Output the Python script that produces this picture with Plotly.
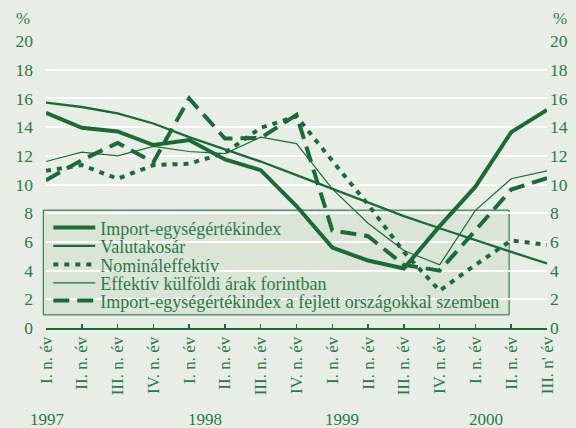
import plotly.graph_objects as go

# ---------------- data ----------------
quarter_labels = ["I. n. év", "II. n. év", "III. n. év", "IV. n. év",
                  "I. n. év", "II. n. év", "III. n. év", "IV. n. év",
                  "I. n. év", "II. n. év", "III. n. év", "IV. n. év",
                  "I. n. év", "II. n. év", "III. n' év"]
quarter_idx = list(range(len(quarter_labels)))

years = ["1997", "1998", "1999", "2000"]
year_pos = [0.0026, 0.318, 0.591, 0.8785]  # paper x of year labels

import_idx = [15.0, 13.95, 13.7, 12.75, 13.1, 11.75, 11.0, 8.5, 5.6, 4.7, 4.15, 7.1, 9.85, 13.65, 15.2]
valutakosar = [15.7, 15.4, 14.95, 14.25, 13.3, 12.45, 11.6, 10.65, 9.7, 8.8, 7.8, 6.95, 6.1, 5.3, 4.5]
nominal = [10.95, 11.35, 10.4, 11.35, 11.45, 12.2, 13.95, 14.75, 11.65, 8.6, 5.3, 2.6, 4.4, 6.1, 5.8]
effektiv = [11.6, 12.25, 12.0, 12.65, 12.3, 12.15, 13.3, 12.85, 9.7, 7.3, 5.4, 4.4, 8.2, 10.4, 10.95]
fejlett = [10.3, 11.7, 12.9, 11.55, 16.0, 13.2, 13.25, 14.85, 6.8, 6.4, 4.4, 4.0, 6.8, 9.65, 10.45]

names = ["Import-egységértékindex", "Valutakosár", "Nomináleffektív",
         "Effektív külföldi árak forintban",
         "Import-egységértékindex a fejlett országokkal szemben"]

# ---------------- style ----------------
GREEN = "#1b6b37"
TEXT = "#2a7a46"
BG = "#e8eee6"
BOX = "#dae5d7"
FONT = "Liberation Serif"

series = [import_idx, valutakosar, nominal, effektiv, fejlett]
widths = [4, 2.3, 4, 1.2, 4]
dashes = ["solid", "solid", "5px,6px", "solid", "16px,8px"]
legend_ids = ["legend", "legend2", "legend3", "legend4", "legend5"]
legend_y = [0.349, 0.285, 0.220, 0.156, 0.0945]

fig = go.Figure()
for vals, nm, w, d, lg in zip(series, names, widths, dashes, legend_ids):
    fig.add_trace(go.Scatter(x=quarter_idx, y=vals, name=nm, mode="lines",
                             line=dict(color=GREEN, width=w, dash=d),
                             legend=lg, hoverinfo="skip"))
# right-hand axis copy (same values, invisible)
fig.add_trace(go.Scatter(x=quarter_idx, y=valutakosar, yaxis="y2", mode="lines",
                         line=dict(width=0), opacity=0, showlegend=False,
                         hoverinfo="skip"))

legends = {}
for lg, yy in zip(legend_ids, legend_y):
    legends[lg] = dict(x=0.0046, xanchor="left", y=yy, yanchor="middle",
                       bgcolor="rgba(0,0,0,0)", borderwidth=0, itemwidth=42,
                       font=dict(family=FONT, size=18, color=TEXT),
                       itemclick=False, itemdoubleclick=False)

annotations = [dict(text="%", xref="paper", yref="paper", x=-0.0463, y=1.0767,
                    xanchor="center", yanchor="middle",
                    showarrow=False, font=dict(family=FONT, size=17, color=TEXT)),
               dict(text="%", xref="paper", yref="paper", x=1.0262, y=1.0767,
                    xanchor="center", yanchor="middle",
                    showarrow=False, font=dict(family=FONT, size=17, color=TEXT))]
for yr, px in zip(years, year_pos):
    annotations.append(dict(text=yr, xref="paper", yref="paper", x=px, y=-0.318,
                            xanchor="center", yanchor="middle", showarrow=False,
                            font=dict(family=FONT, size=17, color=TEXT)))

fig.update_layout(
    width=576, height=428,
    margin=dict(l=45.7, r=29.1, t=41, b=100.2),
    paper_bgcolor=BG, plot_bgcolor=BG,
    showlegend=True,
    **legends,
    annotations=annotations,
    shapes=[dict(type="rect", xref="paper", yref="paper",
                 x0=-0.0054, x1=0.9244, y0=0.0457, y1=0.4107,
                 fillcolor=BOX, line=dict(color=GREEN, width=1), layer="between")],
    xaxis=dict(range=[0, 14], tickvals=quarter_idx, ticktext=quarter_labels,
               tickangle=-90, ticks="inside", ticklen=4, tickwidth=1.5, tickcolor=GREEN,
               showline=True, linecolor=GREEN, linewidth=2, showgrid=False,
               zeroline=False, automargin=False,
               tickfont=dict(family=FONT, size=17, color=TEXT)),
    yaxis=dict(range=[0, 20], dtick=2, showgrid=True, gridcolor="white", gridwidth=2,
               zeroline=False, showline=False, ticks="", automargin=False,
               ticklabelstandoff=12,
               tickfont=dict(family=FONT, size=17.5, color=TEXT)),
    yaxis2=dict(range=[0, 20], dtick=2, overlaying="y", side="right", showgrid=False,
                zeroline=False, showline=False, ticks="", automargin=False,
                ticklabelstandoff=2,
                tickfont=dict(family=FONT, size=17.5, color=TEXT)),
)

fig.write_html("out.html", config={"displayModeBar": False, "staticPlot": True},
               post_script="document.body.style.margin='0';document.body.style.overflow='hidden';")
